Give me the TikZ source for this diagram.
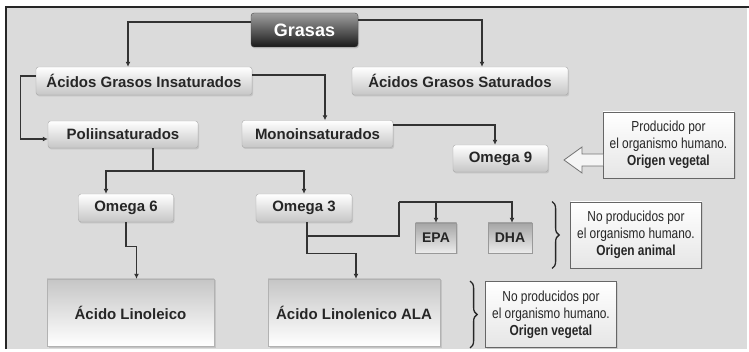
\documentclass[tikz,border=0pt]{standalone}
\usepackage{fontspec}
\setmainfont{Liberation Sans}
\newfontfamily\narrowfont[FakeStretch=0.82]{Liberation Sans}
\usetikzlibrary{positioning,arrows.meta,shadows,decorations.pathreplacing}

\begin{document}
\begin{tikzpicture}[x=1pt,y=-1pt,
    every node/.style={inner sep=0pt},
    tag/.style={draw=gray!70, rounded corners=2.5pt, top color=white, bottom color=gray!45,
        text=black!85, font=\fontsize{15}{17}\selectfont\bfseries, minimum height=28pt,
        drop shadow={opacity=0.25, shadow xshift=1pt, shadow yshift=-1.5pt}},
    topbox/.style={draw=black!70, rounded corners=3pt, top color=gray!75, bottom color=black!90,
        text=white, font=\fontsize{18}{20}\selectfont\bfseries, minimum width=107pt, minimum height=34pt,
        drop shadow={opacity=0.3, shadow xshift=1pt, shadow yshift=-1.5pt}},
    fishbox/.style={draw=gray!80, top color=gray!70, bottom color=gray!15, text=black!85,
        font=\fontsize{14}{16}\selectfont\bfseries, minimum height=30pt,
        drop shadow={opacity=0.25, shadow xshift=1pt, shadow yshift=-1.5pt}},
    bigbox/.style={draw=gray!60, top color=gray!45, bottom color=white, text=black!85,
        font=\fontsize{15}{17}\selectfont\bfseries, minimum height=67pt,
        drop shadow={opacity=0.25, shadow xshift=1.5pt, shadow yshift=-1.5pt}},
    notebox/.style={draw=black!60, line width=0.8pt, top color=white, bottom color=gray!20,
        text=black!85, align=center, font=\narrowfont\fontsize{14.5}{17}\selectfont,
        minimum width=131pt, minimum height=66pt,
        drop shadow={opacity=0.2, shadow xshift=1.5pt, shadow yshift=-1.5pt}},
    wire/.style={draw=black!80, line width=1.2pt},
    feed/.style={wire, -{Latex[length=5pt,width=5pt]}},
    bracket/.style={decorate, decoration={brace, amplitude=7pt}, draw=black!85, line width=1.3pt},
    hollowarrow/.style={draw=black!55, line width=0.8pt, fill=gray!8}
]
    \useasboundingbox (0,0) rectangle (749,352);
    % frame
    \fill[gray!28] (6,7) rectangle (747,349);
    \draw[line width=2.5pt, black!85] (6,349) -- (6,7) -- (749,7);

    % boxes
    \node[topbox] (grasas) at (304.5,30) {Grasas};
    \node[tag, minimum width=216pt] (insat) at (144,81) {Ácidos Grasos Insaturados};
    \node[tag, minimum width=216pt] (sat) at (460,81) {Ácidos Grasos Saturados};
    \node[tag, minimum width=150pt, minimum height=27pt] (poli) at (123,134.5) {Poliinsaturados};
    \node[tag, minimum width=151pt, minimum height=27pt] (mono) at (317.5,134) {Monoinsaturados};
    \node[tag, minimum width=95pt, minimum height=27pt] (om9) at (500.5,158.5) {Omega 9};
    \node[tag, minimum width=95pt] (om6) at (126,208) {Omega 6};
    \node[tag, minimum width=96pt] (om3) at (304,208) {Omega 3};
    \node[fishbox, minimum width=41pt] (epa) at (436,238) {EPA};
    \node[fishbox, minimum width=44pt] (dha) at (510,238) {DHA};
    \node[bigbox, minimum width=167pt] (linoleico) at (130.5,312.5) {Ácido Linoleico};
    \node[bigbox, minimum width=172pt] (linolenico) at (354,312.5) {Ácido Linolenico ALA};

    \node[notebox] (prod) at (668.5,145) {Producido por\\el organismo humano.\\\textbf{Origen vegetal}};
    \node[notebox] (noanimal) at (636,235) {No producidos por\\el organismo humano.\\\textbf{Origen animal}};
    \node[notebox] (noveg) at (551,314.5) {No producidos por\\el organismo humano.\\\textbf{Origen vegetal}};

    % connectors
    \draw[feed] ([yshift=8pt]grasas.west) -| ([xshift=-16pt]insat.north);
    \draw[feed] ([yshift=10pt]grasas.east) -| ([xshift=22pt]sat.north);
    \draw[feed] ([yshift=6pt]insat.east) -| ([xshift=7.5pt]mono.north);
    \draw[feed] ([yshift=5pt]insat.west) -- ++(-15,0) |- ([yshift=-4.5pt]poli.west);
    \draw[feed] ([yshift=9pt]mono.east) -| ([xshift=-5.5pt]om9.north);

    \coordinate (polisplit) at (153,171);
    \draw[wire] ([xshift=30pt]poli.south) -- (polisplit);
    \draw[feed] (polisplit) -| ([xshift=-20pt]om6.north);
    \draw[feed] (polisplit) -| (om3.north);

    \draw[feed] (om6.south) -- ++(0,24) -| ([xshift=6pt]linoleico.north);
    \draw[feed] ([xshift=3pt]om3.south) -- ++(0,31) -| ([xshift=2pt]linolenico.north);

    \coordinate (om3split) at (307,236);
    \coordinate (epadha) at (399,202);
    \draw[wire] (om3split) -| (epadha);
    \draw[feed] (epadha) -| ([xshift=2pt]dha.north);
    \draw[feed] (epa.north |- epadha) -- (epa.north);

    % hollow arrow and braces
    \path[hollowarrow] (603,154) -- (582,154) -- (582,147) -- (564,160) -- (582,173) -- (582,166) -- (603,166);
    \draw[bracket] ([xshift=-18pt]noanimal.north west) -- ([xshift=-18pt]noanimal.south west);
    \draw[bracket] ([xshift=-15pt]noveg.north west) -- ([xshift=-15pt]noveg.south west);
\end{tikzpicture}
\end{document}
